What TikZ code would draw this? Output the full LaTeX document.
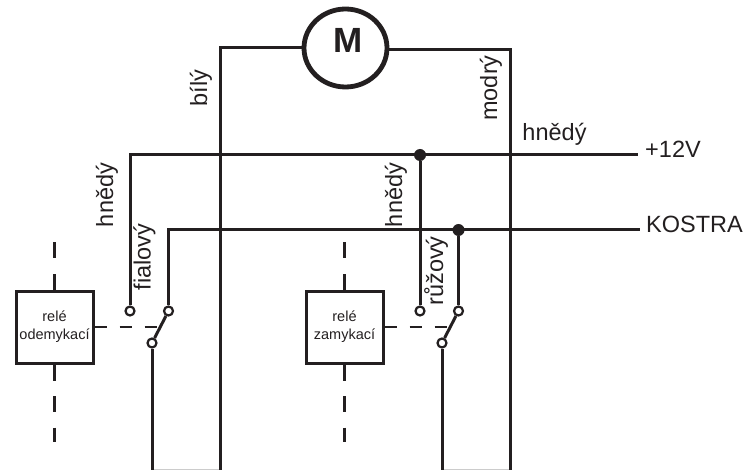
\documentclass[tikz,border=0pt]{standalone}
\usepackage{fontspec}
\usetikzlibrary{shapes.geometric}
\setmainfont{Liberation Sans}
\definecolor{ink}{HTML}{231F20}
\tikzset{
  wire/.style={draw=ink,line width=3pt},
  relay/.style={draw=ink,line width=3pt,minimum width=77pt,minimum height=72pt,inner sep=0pt,align=center,text=ink,font=\fontsize{14.5}{18}\selectfont},
  contact/.style={circle,draw=ink,fill=white,line width=2.2pt,minimum size=9pt,inner sep=0pt},
  junction/.style={circle,fill=ink,minimum size=12pt,inner sep=0pt},
  lbl/.style={text=ink,font=\fontsize{23.5}{26}\selectfont,inner sep=0pt},
  vlbl/.style={lbl,rotate=90},
  vdash/.style={draw=ink,line width=3pt,dash pattern=on 16pt off 15.5pt},
  hdash/.style={draw=ink,line width=2.4pt,dash pattern=on 12pt off 13pt}
}
\begin{document}
\begin{tikzpicture}[x=1pt,y=-1pt]
  \useasboundingbox (0,0) rectangle (749,470);

  \node[ellipse,draw=ink,line width=4.8pt,minimum width=83pt,minimum height=78pt,inner sep=0pt] (M) at (345.5,48) {};
  \node[text=ink,inner sep=0pt,font=\fontsize{35}{35}\selectfont\bfseries] (Mtext) at (348,40) {M};

  \node[relay] (odem) at (54.5,327) {relé\\odemykací};
  \node[relay] (zamy) at (344.5,327) {relé\\zamykací};

  \node[contact] (a1) at (130,311) {};
  \node[contact] (a2) at (168.5,311) {};
  \node[contact] (a3) at (152,343) {};
  \node[contact] (b1) at (420,311) {};
  \node[contact] (b2) at (458.5,311) {};
  \node[contact] (b3) at (442,343) {};

  \node[junction] (j1) at (420,155) {};
  \node[junction] (j2) at (458.5,230) {};

  \coordinate (pwrL) at (130,155);
  \coordinate (pwrR) at (638,155);
  \coordinate (gndL) at (168.5,230);
  \coordinate (gndR) at (640,230);
  \coordinate (mL) at (220,48);
  \coordinate (mR) at (510,50);
  \coordinate (botA) at (152,469.5);
  \coordinate (botB) at (220,469.5);
  \coordinate (botC) at (442,469.5);
  \coordinate (botD) at (510,469.5);
  \coordinate (odemT) at (54.5,242);
  \coordinate (odemB) at (54.5,442);
  \coordinate (zamyT) at (344.5,242);
  \coordinate (zamyB) at (344.5,442);
  \coordinate (odemS) at (157,327);
  \coordinate (zamyS) at (447,327);

  % light line along the lower edge
  \draw[black!20,line width=1pt] (botA) -- (botB);
  \draw[black!20,line width=1pt] (botC) -- (botD);

  % wires
  \draw[wire] (M.west |- mL) -- (mL) -- (botB);
  \draw[wire] (M.east |- mR) -- (mR) -- (botD);
  \draw[wire] (a1) -- (pwrL) -- (pwrR);
  \draw[wire] (a2) -- (gndL) -- (gndR);
  \foreach \s/\t in {b1/j1, b2/j2, a3/botA, b3/botC, a2/a3, b2/b3} {
   \path[wire] (\s) edge (\t);}

  % relay coupling
  \foreach \s/\t in {odem.north/odemT, odem.south/odemB, zamy.north/zamyT, zamy.south/zamyB} {
   \path[vdash] (\s) edge (\t);}
  \path[hdash] (odem.east |- odemS) edge (odemS);
  \path[hdash] (zamy.east |- zamyS) edge (zamyS);

  % labels
  \node[vlbl] (bily) at (201,88) {bílý};
  \node[vlbl] (modry) at (491,88) {modrý};
  \node[vlbl] (hn1) at (107,195) {hnědý};
  \node[vlbl] (hn2) at (396,195) {hnědý};
  \node[vlbl] (fial) at (144.5,257) {fialový};
  \node[vlbl] (ruz) at (436,271) {růžový};
  \node[lbl] (hn3) at (554.5,134) {hnědý};
  \node[lbl,anchor=west] (v12) at (645,149) {+12V};
  \node[lbl,anchor=west] (kostra) at (646,224) {KOSTRA};
\end{tikzpicture}
\end{document}
